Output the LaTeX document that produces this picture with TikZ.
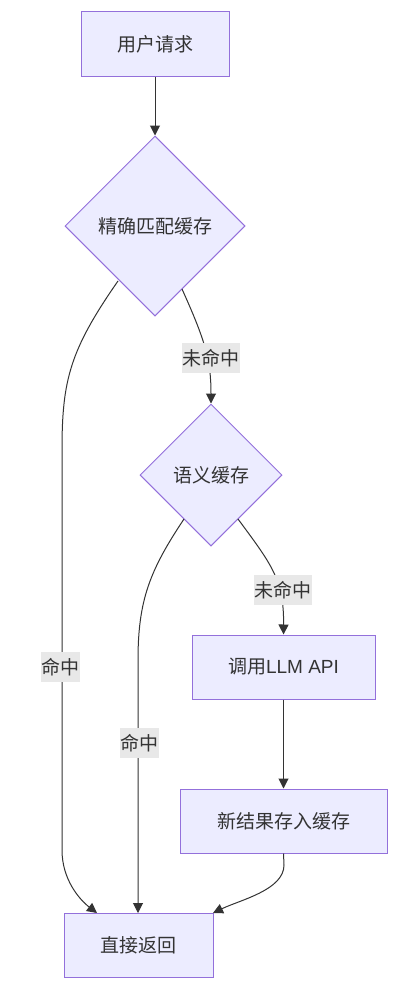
\documentclass[tikz,border=0pt]{standalone}
\usepackage{fontspec}
\setmainfont{Liberation Sans}
\newfontfamily\cjk{Noto Sans CJK SC}
\usetikzlibrary{shapes.geometric,arrows.meta}
\definecolor{nodefill}{HTML}{ECECFF}
\definecolor{nodeline}{HTML}{9370DB}
\definecolor{edgeline}{HTML}{333333}
\definecolor{labelbg}{HTML}{E8E8E8}
\tikzset{
  x=1pt,y=-1pt,
  every node/.style={font=\fontsize{19}{22}\selectfont\cjk, text=edgeline},
  procbox/.style={draw=nodeline, fill=nodefill, line width=1pt, inner sep=0pt, rectangle},
  decbox/.style={draw=nodeline, fill=nodefill, line width=1pt, inner sep=0pt, diamond, shape aspect=1},
  edgelabel/.style={fill=labelbg, inner sep=0pt, minimum height=30pt, minimum width=58pt},
  conn/.style={draw=edgeline, line width=1pt, -{Triangle[length=10pt,width=10pt]}},
}
\begin{document}
\begin{tikzpicture}
\useasboundingbox[fill=white] (0,0) rectangle (417,990);
\node[procbox, minimum width=148pt, minimum height=64pt] (req) at (155,44) {用户请求};
\node[decbox, minimum width=180pt, minimum height=180pt] (exact) at (155,226) {精确匹配缓存};
\node[decbox, minimum width=142pt, minimum height=142pt] (sem) at (211,475) {语义缓存};
\node[procbox, minimum width=183pt, minimum height=64pt] (llm) at (283.5,667) {{\cjk 调用}{\fontspec{Liberation Sans}LLM API}};
\node[procbox, minimum width=207pt, minimum height=64pt] (store) at (283.5,821) {新结果存入缓存};
\node[procbox, minimum width=149pt, minimum height=64pt] (ret) at (138.5,945) {直接返回};

\coordinate (e1s) at (182,289);
\coordinate (e2s) at (118,281);
\coordinate (e3s) at (238,519);
\coordinate (e4s) at (184,519);
\coordinate (r1) at (97,913);
\coordinate (r2) at (138,913);
\coordinate (r3) at (213,913);

\draw[conn] (req) -- (exact);
\draw[conn] (e1s) .. controls (205,340) and (211,360) .. (sem.north);
\draw[conn] (e2s) .. controls (70,350) and (62,380) .. (62,450) -- (62,850) .. controls (62,880) and (80,900) .. (r1);
\draw[conn] (e3s) .. controls (272,565) and (284,580) .. (llm.north);
\draw[conn] (e4s) .. controls (150,570) and (138,600) .. (138,660) -- (r2);
\draw[conn] (llm) -- (store);
\draw[conn] (store.south) -- (284,865) .. controls (284,890) and (240,900) .. (r3);

\node[edgelabel] (l1) at (211,358) {未命中};
\node[edgelabel, minimum width=39pt] (l2) at (60,667) {命中};
\node[edgelabel] (l3) at (283,590) {未命中};
\node[edgelabel, minimum width=39pt] (l4) at (139,743) {命中};
\end{tikzpicture}
\end{document}
